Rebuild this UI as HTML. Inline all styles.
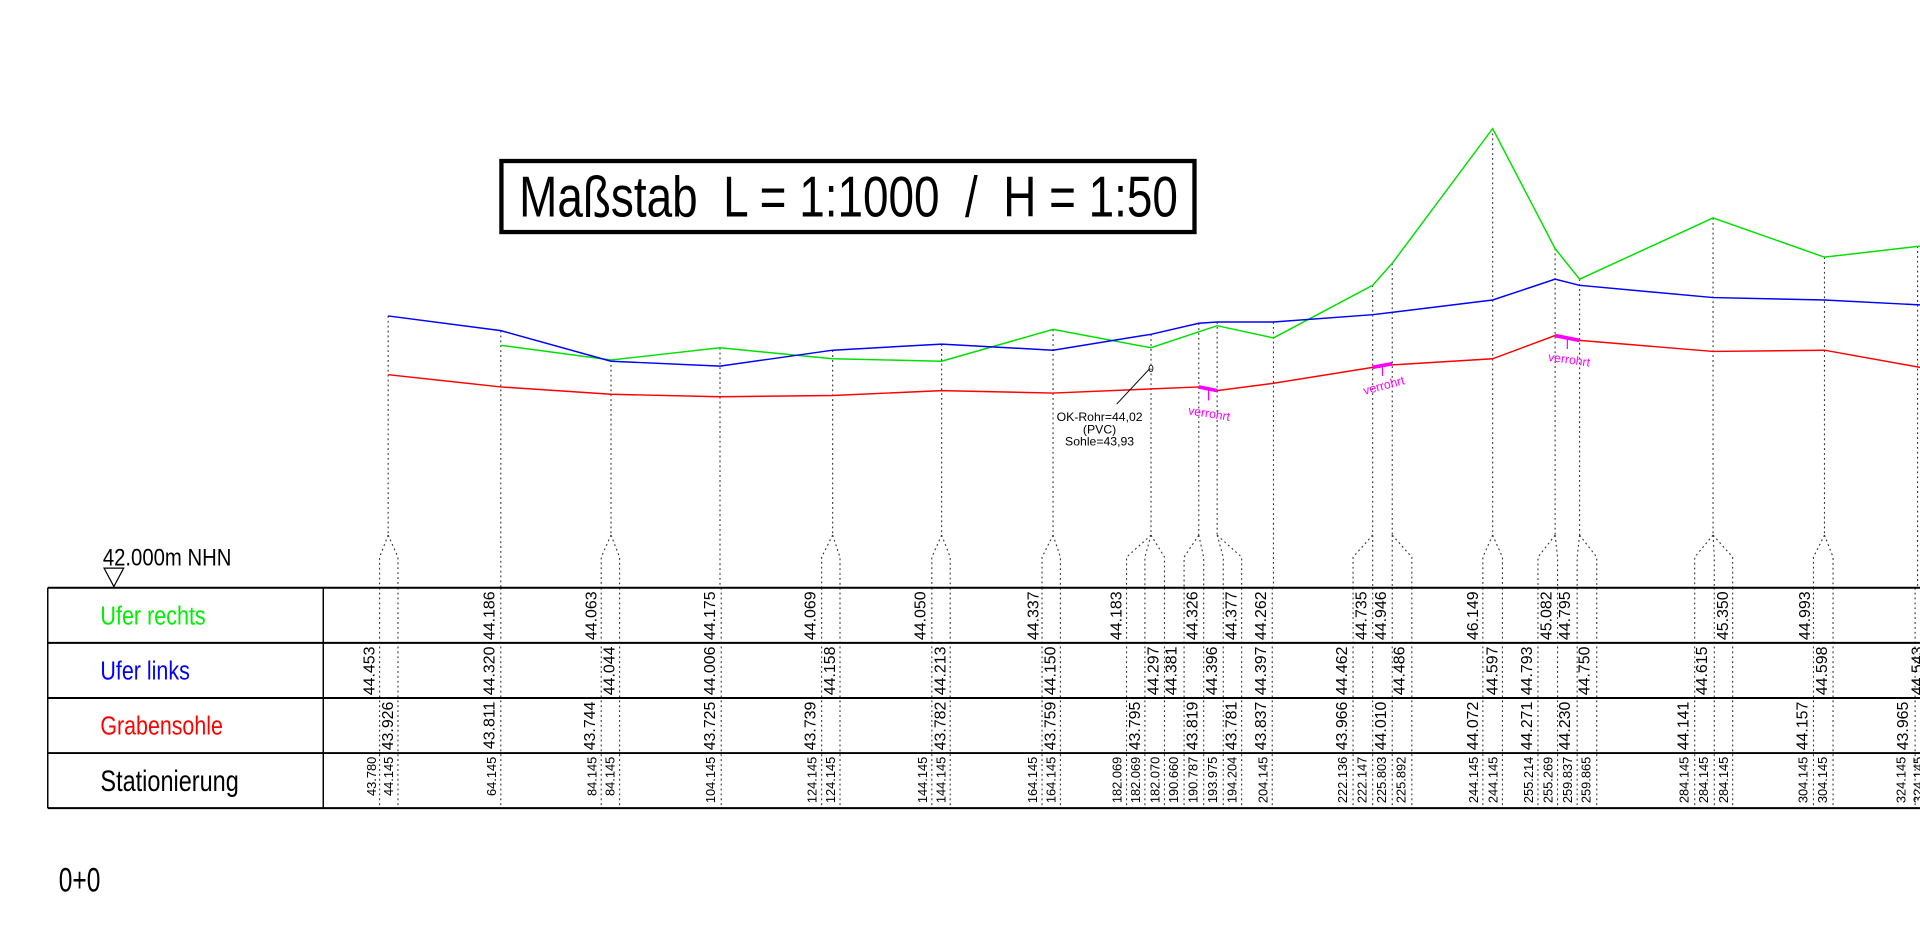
<!DOCTYPE html>
<html><head><meta charset="utf-8"><style>
html,body{margin:0;padding:0;background:#fff;}
svg{display:block;}
text{font-family:"Liberation Sans",sans-serif;}
</style></head><body>
<svg width="1920" height="950" viewBox="0 0 1568 775.83" xmlns="http://www.w3.org/2000/svg">
<rect width="1568" height="776" fill="#fff"/>
<!-- scale box -->
<rect x="409.5" y="131.5" width="566" height="58" fill="#fff" stroke="#000" stroke-width="3.5"/>
<text x="424" y="177" font-size="47" textLength="538" lengthAdjust="spacingAndGlyphs" xml:space="preserve" style="white-space:pre">Maßstab  L = 1:1000  /  H = 1:50</text>

<!-- dotted verticals -->
<g stroke="#333" stroke-width="0.9" stroke-dasharray="1.5,2.5" fill="none">
<path d="M317 258V437M317 437L310 455V480M317 437L325 455V480"/>
<path d="M409 270V480"/>
<path d="M499 294V437M499 437L491 455V480M499 437L506 455V480"/>
<path d="M588 284V480"/>
<path d="M680 286V437M680 437L671 455V480M680 437L686 455V480"/>
<path d="M769 281V437M769 437L761 455V480M769 437L776 455V480"/>
<path d="M860 269V437M860 437L851 455V480M860 437L866 455V480"/>
<path d="M940 273V437M940 437L920 455V480M940 437L935 455V480M940 437L951 455V480"/>
<path d="M979 264V437M979 437L967 455V480M979 437L983 455V480"/>
<path d="M994 263V437M994 437L999 455V480M994 437L1014 455V480"/>
<path d="M1040 263V480"/>
<path d="M1121 233V437M1121 437L1105 455V480M1121 437L1121 480"/>
<path d="M1137 215V437M1137 437L1137 480M1137 437L1153 455V480"/>
<path d="M1219 105V437M1219 437L1211 455V480M1219 437L1227 455V480"/>
<path d="M1270 203V437M1270 437L1256 455V480M1270 437L1272 455V480"/>
<path d="M1290 228V437M1290 437L1288 455V480M1290 437L1304 455V480"/>
<path d="M1399 178V437M1399 437L1384 455V480M1399 437L1400 455V480M1399 437L1415 455V480"/>
<path d="M1490 210V437M1490 437L1481 455V480M1490 437L1497 455V480"/>
<path d="M1566 201V480"/>
<path d="M310 480V660M325 480V660M409 480V660M491 480V660M506 480V660M589 480V660M671 480V660M686 480V660M761 480V660M776 480V660M851 480V660M866 480V660M920 480V660M935 480V660M951 480V660M967 480V660M983 480V660M999 480V660M1014 480V660M1039 480V660M1105 480V660M1121 480V660M1137 480V660M1153 480V660M1211 480V660M1227 480V660M1256 480V660M1272 480V660M1288 480V660M1304 480V660M1384 480V660M1400 480V660M1415 480V660M1481 480V660M1497 480V660M1564 480V660"/>
</g>

<!-- series -->
<polyline fill="none" stroke="#00e000" stroke-width="1.2" points="409,282 499,294 588,284 680,293 769,295 860,269 940,284 994,266 1040,276 1121,233 1137,215 1219,105 1270,203 1290,228 1399,178 1490,210 1568,201"/>
<polyline fill="none" stroke="#0000ff" stroke-width="1.2" points="317,258 409,270 499,295 588,299 680,286 769,281 860,286 940,273 979,264 994,263 1040,263 1121,257 1219,245 1270,228 1290,233 1399,243 1490,245 1568,249"/>
<polyline fill="none" stroke="#ff0000" stroke-width="1.2" points="317,306 409,316 499,322 588,324 680,323 769,319 860,321 979,316 994,319 1040,313 1121,300 1137,298 1219,293 1270,274 1290,278 1399,287 1490,286 1568,300"/>

<!-- annotations -->
<line x1="939" y1="301" x2="912" y2="330" stroke="#000" stroke-width="0.8"/>
<text x="940" y="304" font-size="8" text-anchor="middle">0</text>
<g font-size="10" text-anchor="middle">
<text x="898" y="344">OK-Rohr=44,02</text>
<text x="898" y="354">(PVC)</text>
<text x="898" y="364">Sohle=43,93</text>
</g>
<g stroke="#ff00ff" fill="none">
<path d="M979 316L994 319" stroke-width="3"/><path d="M987 318V327" stroke-width="1"/>
<path d="M1121 300L1137 297" stroke-width="3"/><path d="M1129 299V307" stroke-width="1"/>
<path d="M1270 274L1290 278" stroke-width="3"/><path d="M1280 276V285" stroke-width="1"/>
</g>
<g fill="#ff00ff" font-size="10" text-anchor="middle">
<text transform="translate(987,341) rotate(9)">verrohrt</text>
<text transform="translate(1131,318) rotate(-15)">verrohrt</text>
<text transform="translate(1281,297) rotate(8)">verrohrt</text>
</g>

<!-- NHN -->
<text x="84" y="462" font-size="20" textLength="105" lengthAdjust="spacingAndGlyphs">42.000m NHN</text>
<path d="M85 464H101L93 479Z" fill="#fff" stroke="#000" stroke-width="1"/>

<!-- table -->
<g stroke="#000" fill="none">
<path d="M39 480H1568M39 525H1568M39 570H1568M39 615H1568M39 660H1568" stroke-width="1.6"/>
<path d="M39 480V660M264 480V660" stroke-width="1.2"/>
</g>
<text x="82" y="510" font-size="21" fill="#00ee00" textLength="86" lengthAdjust="spacingAndGlyphs">Ufer rechts</text>
<text x="82" y="555" font-size="21" fill="#0000ff" textLength="73" lengthAdjust="spacingAndGlyphs">Ufer links</text>
<text x="82" y="600" font-size="21" fill="#ff0000" textLength="100" lengthAdjust="spacingAndGlyphs">Grabensohle</text>
<text x="82" y="646" font-size="24" fill="#000" textLength="113" lengthAdjust="spacingAndGlyphs">Stationierung</text>

<g font-size="13" text-anchor="end" fill="#000">
<text transform="translate(404,483) rotate(-90)">44.186</text>
<text transform="translate(487,483) rotate(-90)">44.063</text>
<text transform="translate(584,483) rotate(-90)">44.175</text>
<text transform="translate(666,483) rotate(-90)">44.069</text>
<text transform="translate(756,483) rotate(-90)">44.050</text>
<text transform="translate(848,483) rotate(-90)">44.337</text>
<text transform="translate(916,483) rotate(-90)">44.183</text>
<text transform="translate(978,483) rotate(-90)">44.326</text>
<text transform="translate(1010,483) rotate(-90)">44.377</text>
<text transform="translate(1034,483) rotate(-90)">44.262</text>
<text transform="translate(1116,483) rotate(-90)">44.735</text>
<text transform="translate(1132,483) rotate(-90)">44.946</text>
<text transform="translate(1207,483) rotate(-90)">46.149</text>
<text transform="translate(1267,483) rotate(-90)">45.082</text>
<text transform="translate(1282,483) rotate(-90)">44.795</text>
<text transform="translate(1411,483) rotate(-90)">45.350</text>
<text transform="translate(1478,483) rotate(-90)">44.993</text>
<text transform="translate(306,528) rotate(-90)">44.453</text>
<text transform="translate(404,528) rotate(-90)">44.320</text>
<text transform="translate(502,528) rotate(-90)">44.044</text>
<text transform="translate(584,528) rotate(-90)">44.006</text>
<text transform="translate(682,528) rotate(-90)">44.158</text>
<text transform="translate(772,528) rotate(-90)">44.213</text>
<text transform="translate(862,528) rotate(-90)">44.150</text>
<text transform="translate(946,528) rotate(-90)">44.297</text>
<text transform="translate(961,528) rotate(-90)">44.381</text>
<text transform="translate(994,528) rotate(-90)">44.396</text>
<text transform="translate(1034,528) rotate(-90)">44.397</text>
<text transform="translate(1100,528) rotate(-90)">44.462</text>
<text transform="translate(1147,528) rotate(-90)">44.486</text>
<text transform="translate(1223,528) rotate(-90)">44.597</text>
<text transform="translate(1251,528) rotate(-90)">44.793</text>
<text transform="translate(1298,528) rotate(-90)">44.750</text>
<text transform="translate(1394,528) rotate(-90)">44.615</text>
<text transform="translate(1492,528) rotate(-90)">44.598</text>
<text transform="translate(1570,528) rotate(-90)">44.543</text>
<text transform="translate(321,573) rotate(-90)">43.926</text>
<text transform="translate(404,573) rotate(-90)">43.811</text>
<text transform="translate(486,573) rotate(-90)">43.744</text>
<text transform="translate(584,573) rotate(-90)">43.725</text>
<text transform="translate(666,573) rotate(-90)">43.739</text>
<text transform="translate(772,573) rotate(-90)">43.782</text>
<text transform="translate(862,573) rotate(-90)">43.759</text>
<text transform="translate(931,573) rotate(-90)">43.795</text>
<text transform="translate(978,573) rotate(-90)">43.819</text>
<text transform="translate(1010,573) rotate(-90)">43.781</text>
<text transform="translate(1034,573) rotate(-90)">43.837</text>
<text transform="translate(1100,573) rotate(-90)">43.966</text>
<text transform="translate(1132,573) rotate(-90)">44.010</text>
<text transform="translate(1207,573) rotate(-90)">44.072</text>
<text transform="translate(1251,573) rotate(-90)">44.271</text>
<text transform="translate(1282,573) rotate(-90)">44.230</text>
<text transform="translate(1379,573) rotate(-90)">44.141</text>
<text transform="translate(1476,573) rotate(-90)">44.157</text>
<text transform="translate(1558,573) rotate(-90)">43.965</text>
</g>
<g font-size="10.5" text-anchor="end" fill="#000">
<text transform="translate(307,618) rotate(-90)">43.780</text>
<text transform="translate(321,618) rotate(-90)">44.145</text>
<text transform="translate(405,618) rotate(-90)">64.145</text>
<text transform="translate(487,618) rotate(-90)">84.145</text>
<text transform="translate(502,618) rotate(-90)">84.145</text>
<text transform="translate(584,618) rotate(-90)">104.145</text>
<text transform="translate(667,618) rotate(-90)">124.145</text>
<text transform="translate(682,618) rotate(-90)">124.145</text>
<text transform="translate(757,618) rotate(-90)">144.145</text>
<text transform="translate(772,618) rotate(-90)">144.145</text>
<text transform="translate(847,618) rotate(-90)">164.145</text>
<text transform="translate(862,618) rotate(-90)">164.145</text>
<text transform="translate(916,618) rotate(-90)">182.069</text>
<text transform="translate(931,618) rotate(-90)">182.069</text>
<text transform="translate(947,618) rotate(-90)">182.070</text>
<text transform="translate(962,618) rotate(-90)">190.660</text>
<text transform="translate(978,618) rotate(-90)">190.787</text>
<text transform="translate(994,618) rotate(-90)">193.975</text>
<text transform="translate(1010,618) rotate(-90)">194.204</text>
<text transform="translate(1035,618) rotate(-90)">204.145</text>
<text transform="translate(1100,618) rotate(-90)">222.136</text>
<text transform="translate(1116,618) rotate(-90)">222.147</text>
<text transform="translate(1132,618) rotate(-90)">225.803</text>
<text transform="translate(1148,618) rotate(-90)">225.892</text>
<text transform="translate(1207,618) rotate(-90)">244.145</text>
<text transform="translate(1223,618) rotate(-90)">244.145</text>
<text transform="translate(1252,618) rotate(-90)">255.214</text>
<text transform="translate(1268,618) rotate(-90)">255.269</text>
<text transform="translate(1284,618) rotate(-90)">259.837</text>
<text transform="translate(1299,618) rotate(-90)">259.865</text>
<text transform="translate(1379,618) rotate(-90)">284.145</text>
<text transform="translate(1395,618) rotate(-90)">284.145</text>
<text transform="translate(1411,618) rotate(-90)">284.145</text>
<text transform="translate(1476,618) rotate(-90)">304.145</text>
<text transform="translate(1492,618) rotate(-90)">304.145</text>
<text transform="translate(1556,618) rotate(-90)">324.145</text>
<text transform="translate(1570,618) rotate(-90)">324.145</text>
</g>

<text x="48" y="728" font-size="28" textLength="34" lengthAdjust="spacingAndGlyphs">0+0</text>
</svg>
</body></html>
